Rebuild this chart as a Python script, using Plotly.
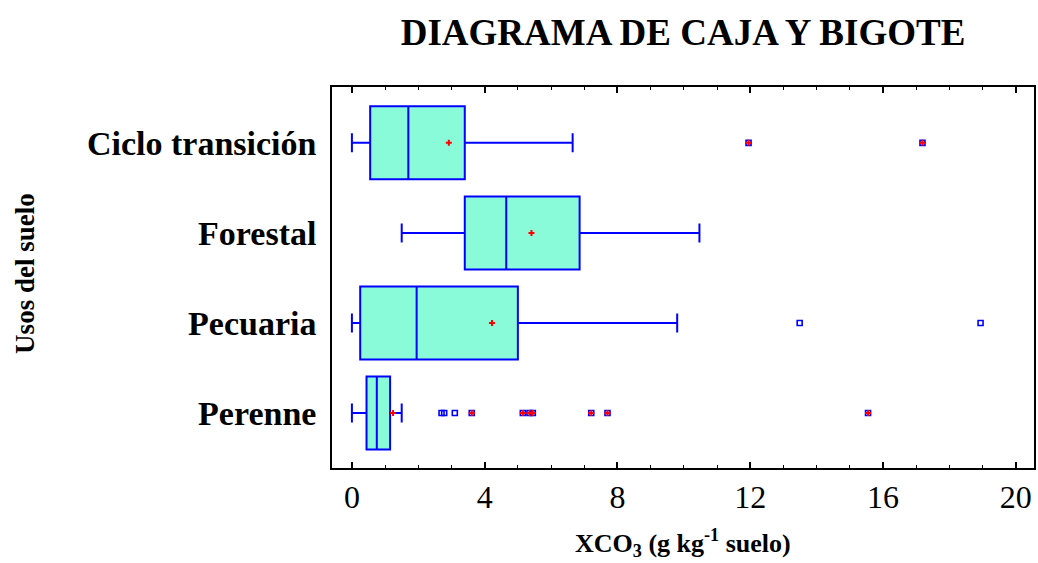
import plotly.graph_objects as go

# Land-use categories (top to bottom)
categories = ["Ciclo transición", "Forestal", "Pecuaria", "Perenne"]

# Box statistics for XCO3 (g kg-1 soil)
lower_whisker = [0.0, 1.50, 0.0, 0.0]
q1 = [0.55, 3.40, 0.25, 0.44]
median = [1.70, 4.65, 1.95, 0.75]
q3 = [3.40, 6.86, 5.00, 1.15]
upper_whisker = [6.65, 10.47, 9.80, 1.50]
means = [2.92, 5.41, 4.22, 1.24]

# Outside points (beyond 1.5 IQR)
outside_cat = ["Pecuaria", "Pecuaria", "Perenne", "Perenne", "Perenne"]
outside_val = [13.49, 18.94, 2.70, 2.78, 3.10]

# Far outside points (beyond 3 IQR)
far_cat = ["Ciclo transición", "Ciclo transición",
           "Perenne", "Perenne", "Perenne", "Perenne", "Perenne", "Perenne", "Perenne"]
far_val = [11.95, 17.19, 3.61, 5.15, 5.35, 5.45, 7.21, 7.70, 15.55]

x_ticks = [0, 4, 8, 12, 16, 20]

BLUE = "#0000FF"
RED = "#FF0000"
FILL = "#8AFBD8"
SERIF = "Liberation Serif"

fig = go.Figure()

fig.add_trace(go.Box(
    y=categories,
    q1=q1, median=median, q3=q3,
    lowerfence=lower_whisker, upperfence=upper_whisker,
    orientation="h",
    boxpoints=False,
    fillcolor=FILL,
    line=dict(color=BLUE, width=2),
    whiskerwidth=0.26,
    width=0.81,
    hoverinfo="skip",
))

# outside points: hollow blue squares
fig.add_trace(go.Scatter(
    x=outside_val + far_val, y=outside_cat + far_cat,
    mode="markers",
    marker=dict(symbol="square-open", size=5, color=BLUE, line=dict(width=1.6, color=BLUE)),
    hoverinfo="skip",
))

# far outside points: red plus inside the square
fig.add_trace(go.Scatter(
    x=far_val, y=far_cat,
    mode="markers",
    marker=dict(symbol="cross", size=5, color=RED, line=dict(width=0)),
    hoverinfo="skip",
))

# means: small red plus
fig.add_trace(go.Scatter(
    x=means, y=categories,
    mode="markers",
    marker=dict(symbol="cross", size=5, color=RED, line=dict(width=0)),
    hoverinfo="skip",
))

fig.update_layout(
    width=1038, height=563,
    margin=dict(l=332, r=2, t=87, b=95),
    paper_bgcolor="white", plot_bgcolor="white",
    showlegend=False,
    title=dict(
        text="DIAGRAMA DE CAJA Y BIGOTE",
        font=dict(family=SERIF, size=37, color="black", weight="bold"),
        x=0.5, xref="paper", xanchor="center",
        y=1 - 32 / 563, yref="container", yanchor="middle",
    ),
    xaxis=dict(
        range=[-0.6, 20.55],
        tickvals=x_ticks,
        ticktext=[str(v) for v in x_ticks],
        ticks="inside", ticklen=6, tickwidth=1.5, tickcolor="black",
        minor=dict(dtick=1, ticks="inside", ticklen=3, tickwidth=1.2, tickcolor="black"),
        showline=True, linecolor="black", linewidth=1.5, mirror="allticks",
        showgrid=False, zeroline=False,
        tickfont=dict(family=SERIF, size=32, color="black"),
    ),
    yaxis=dict(
        type="category",
        categoryorder="array",
        categoryarray=categories[::-1],
        range=[-0.61, 3.62],
        ticks="", ticklabelstandoff=7,
        showline=True, linecolor="black", linewidth=1.5, mirror=True,
        showgrid=False, zeroline=False,
        tickfont=dict(family=SERIF, size=34, color="black", weight="bold"),
    ),
    annotations=[
        dict(
            text="XCO<sub>3</sub> (g kg<sup>-1</sup> suelo)",
            xref="paper", yref="paper", x=0.5, y=(468 - 543) / 381,
            xanchor="center", yanchor="middle", showarrow=False,
            font=dict(family=SERIF, size=26, color="black", weight="bold"),
        ),
        dict(
            text="Usos del suelo",
            xref="paper", yref="paper", x=(24 - 332) / 704, y=(468 - 273) / 381,
            xanchor="center", yanchor="middle", showarrow=False, textangle=-90,
            font=dict(family=SERIF, size=27, color="black", weight="bold"),
        ),
    ],
)

fig.write_html("out.html")
